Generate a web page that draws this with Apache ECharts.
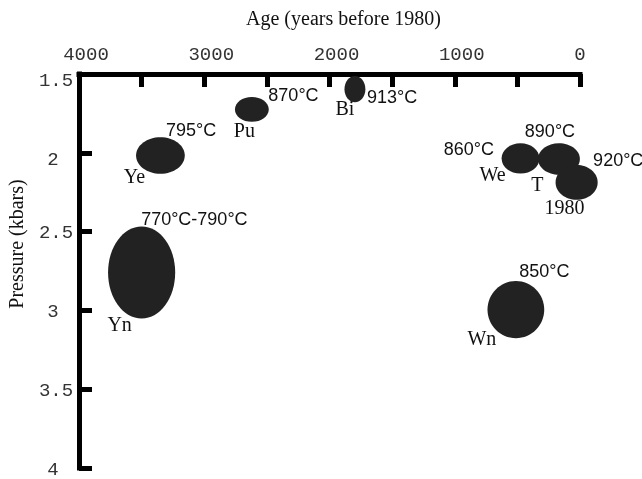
<!DOCTYPE html>
<html>
<head>
<meta charset="utf-8">
<script src="https://cdn.jsdelivr.net/npm/echarts@6/dist/echarts.min.js"></script>
<style>
html,body{margin:0;padding:0;background:#fff;}
#chart{width:642px;height:479px;}
</style>
</head>
<body>
<div id="chart"></div>
<script>
// ---- data ----
var names = ['Yn', 'Ye', 'Pu', 'Bi', 'We', 'T', '1980', 'Wn'];
var ages = [3500, 3350, 2620, 1797, 475, 168, 27, 512];            // years before 1980
var pressures = [2.76, 2.017, 1.725, 1.596, 2.036, 2.04, 2.188, 2.995]; // kbars
var ageSpans = [536, 389, 270, 167, 302, 334, 336, 453];           // ellipse width (years)
var pressureSpans = [0.584, 0.232, 0.157, 0.166, 0.192, 0.2, 0.22, 0.364]; // ellipse height (kbars)
var temps = ['770°C-790°C', '795°C', '870°C', '913°C', '860°C', '890°C', '920°C', '850°C'];
var xTicks = [0, 1000, 2000, 3000, 4000];
var yTicks = [1.5, 2, 2.5, 3, 3.5, 4];

// ---- label layout (pixel offsets from ellipse centre; styling only) ----
var labelLayout = {
  'Yn':   {t: [-0.5, -53, 'left'],  n: [-22, 53]},
  'Ye':   {t: [5.5, -24, 'left'],   n: [-26, 22]},
  'Pu':   {t: [16.5, -13, 'left'],  n: [-7.5, 22]},
  'Bi':   {t: [12, 9, 'left'],      n: [-10, 21]},
  'We':   {t: [-26.5, -8, 'right'], n: [-28, 17]},
  'T':    {t: [-9, -27, 'center'],  n: [-21.5, 27]},
  '1980': {t: [16.5, -21, 'left'],  n: [-12, 26.5]},
  'Wn':   {t: [3.3, -38, 'left'],   n: [-34, 30]}
};

var seriesData = names.map(function (n, i) {
  return [ages[i], pressures[i], ageSpans[i], pressureSpans[i], i];
});

var monoStyle = {fontFamily: 'Liberation Mono', fontSize: 19, color: '#333'};
function rs(extra) { return Object.assign({}, monoStyle, extra); }

var chart = echarts.init(document.getElementById('chart'), null, {renderer: 'canvas'});
var option = {
  animation: false,
  backgroundColor: '#ffffff',
  grid: {left: 76, right: 62, top: 74, bottom: 8, containLabel: false},
  xAxis: {
    type: 'value',
    position: 'top',
    inverse: true,
    min: xTicks[0],
    max: xTicks[xTicks.length - 1],
    interval: 500,
    name: 'Age (years before 1980)',
    nameLocation: 'middle',
    nameGap: 44,
    nameTextStyle: {fontFamily: 'Liberation Serif', fontSize: 20, color: '#111', padding: [0, 0, 0, 28]},
    axisLine: {show: true, onZero: false, lineStyle: {color: '#000', width: 5, cap: 'square'}},
    axisTick: {show: true, inside: true, length: 13, lineStyle: {color: '#000', width: 5}},
    splitLine: {show: false},
    axisLabel: {
      margin: 10,
      fontFamily: 'Liberation Mono', fontSize: 19, color: '#333',
      formatter: function (v) {
        if (xTicks.indexOf(v) < 0) return '';
        return v === 0 ? '{z|0}' : '{n|' + v + '}';
      },
      rich: {
        n: rs({padding: [0, 0, 0, 14]}),
        z: rs({})
      }
    }
  },
  yAxis: {
    type: 'value',
    position: 'left',
    inverse: true,
    min: yTicks[0],
    max: yTicks[yTicks.length - 1],
    interval: 0.5,
    name: 'Pressure (kbars)',
    nameLocation: 'middle',
    nameRotate: 90,
    nameGap: 40,
    nameTextStyle: {fontFamily: 'Liberation Serif', fontSize: 20, color: '#111', padding: [0, 0, 0, 54]},
    axisLine: {show: true, onZero: false, lineStyle: {color: '#000', width: 5, cap: 'square'}},
    axisTick: {show: true, inside: true, length: 13, lineStyle: {color: '#000', width: 5}},
    splitLine: {show: false},
    axisLabel: {
      margin: 23,
      align: 'center',
      fontFamily: 'Liberation Mono', fontSize: 19, color: '#333',
      formatter: function (v) {
        var s = String(v);
        var low = v < 2.25;
        var single = s.length === 1;
        return '{' + (low ? 'l' : 'h') + (single ? '1' : '3') + '|' + s + '}';
      },
      rich: {
        l1: rs({padding: [14, 6, 0, 0]}),
        l3: rs({padding: [14, 0, 0, 0]}),
        h1: rs({padding: [3, 6, 0, 0]}),
        h3: rs({padding: [3, 0, 0, 0]})
      }
    }
  },
  series: [{
    type: 'custom',
    coordinateSystem: 'cartesian2d',
    clip: false,
    encode: {x: 0, y: 1},
    data: seriesData,
    renderItem: function (params, api) {
      var c = api.coord([api.value(0), api.value(1)]);
      var s = api.size([api.value(2), api.value(3)], [api.value(0), api.value(1)]);
      var idx = api.value(4);
      var nm = names[idx];
      var lay = labelLayout[nm];
      return {
        type: 'group',
        children: [
          {type: 'ellipse', shape: {cx: c[0], cy: c[1], rx: s[0] / 2, ry: s[1] / 2},
           style: {fill: '#222222', stroke: null}},
          {type: 'text', style: {
            text: temps[idx], x: c[0] + lay.t[0], y: c[1] + lay.t[1],
            align: lay.t[2], verticalAlign: 'middle',
            font: '18px "Liberation Sans"', fill: '#111'}},
          {type: 'text', style: {
            text: nm, x: c[0] + lay.n[0], y: c[1] + lay.n[1],
            align: 'center', verticalAlign: 'middle',
            font: '20px "Liberation Serif"', fill: '#111'}}
        ]
      };
    }
  }]
};
chart.setOption(option);
</script>
</body>
</html>
